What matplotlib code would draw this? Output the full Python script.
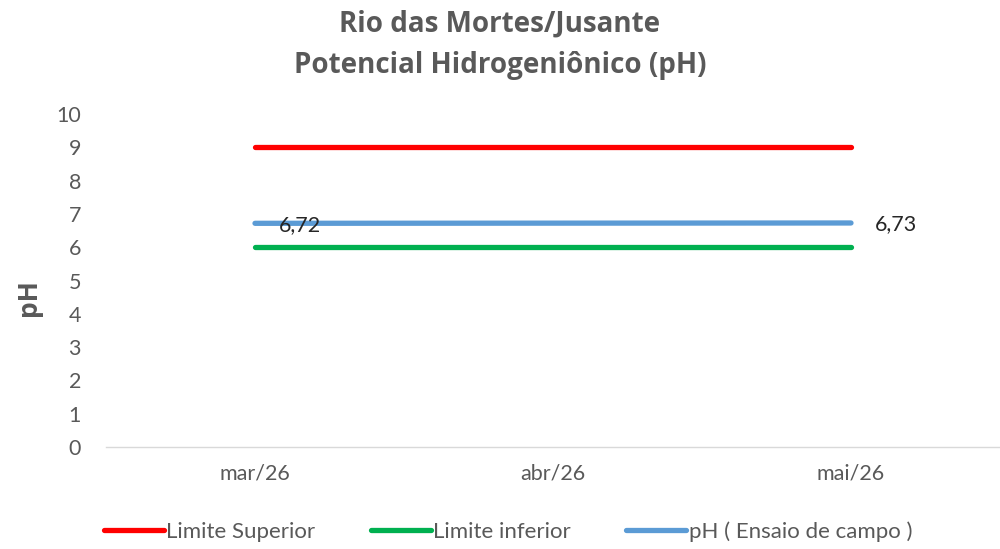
import numpy as np
import matplotlib.pyplot as plt

# data
meses = ['mar/26', 'abr/26', 'mai/26']
limite_superior = [9, 9, 9]
limite_inferior = [6, 6, 6]
ph_campo = [6.72, np.nan, 6.73]

plt.rcParams['font.family'] = ['Lato', 'DejaVu Sans']
cinza = '#595959'

fig = plt.figure(figsize=(10, 5.49), dpi=100)
ax = fig.add_axes([0.106, 0.186, 0.894, 0.606])

x = np.arange(len(meses))
ax.plot(x, limite_superior, color='#ff0000', lw=3.8, solid_capstyle='round', label='Limite Superior')
ax.plot(x, limite_inferior, color='#00b050', lw=3.8, solid_capstyle='round', label='Limite inferior')
ok = ~np.isnan(ph_campo)
ax.plot(x[ok], np.array(ph_campo)[ok], color='#5b9bd5', lw=3.8, solid_capstyle='round',
        label='pH ( Ensaio de campo )')

# data labels
for xi, v in zip(x[ok], np.array(ph_campo)[ok]):
    ax.annotate(f'{v:.2f}'.replace('.', ','), (xi, v), xytext=(17, -1), textcoords='offset points',
                ha='left', va='center', fontsize=15.5, color='#262626')

ax.set_xlim(-0.5, 2.5)
ax.set_ylim(0, 10)
ax.set_yticks(range(0, 11))
ax.set_xticks(x)
ax.set_xticklabels(meses)
ax.tick_params(axis='both', length=0, labelsize=15.5, colors=cinza)
ax.tick_params(axis='x', pad=12)
ax.tick_params(axis='y', pad=18)
for s in ['top', 'right', 'left']:
    ax.spines[s].set_visible(False)
ax.spines['bottom'].set_color('#d9d9d9')
ax.spines['bottom'].set_linewidth(1)

ax.set_ylabel('pH', fontsize=19, fontweight='bold', color=cinza,
              family=['Open Sans', 'DejaVu Sans'])
ax.yaxis.set_label_coords(-0.072, 0.45)

fig.suptitle('Rio das Mortes/Jusante\nPotencial Hidrogeniônico (pH)', fontsize=20,
             fontweight='bold', color=cinza, y=0.982, linespacing=1.55,
             family=['Open Sans', 'DejaVu Sans'])

fig.legend(loc='lower center', bbox_to_anchor=(0.508, -0.024), ncol=3, frameon=False,
           fontsize=16, labelcolor=cinza, handlelength=2.7, handletextpad=0.1, columnspacing=2.5)

fig.savefig('out.png', dpi=100)
